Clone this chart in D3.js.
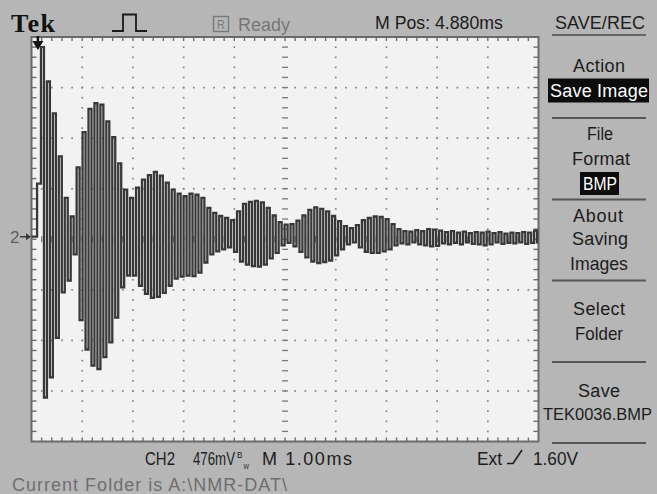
<!DOCTYPE html>
<html>
<head>
<meta charset="utf-8">
<script src="https://cdn.jsdelivr.net/npm/d3@7"></script>
<style>
  html, body { margin: 0; padding: 0; background: #b6b6b6; }
  svg { display: block; }
</style>
</head>
<body>
<svg id="scope" width="657" height="494"></svg>
<script>
// CH2 free-induction decay: successive positive / negative extrema (divisions, 476 mV/div)
const crest = [
  3.80, 3.12, 2.49, 1.64, 0.82, 0.45, 1.42, 2.12, 2.58, 2.69,
  2.66, 2.33, 2.02, 1.50, 0.98, 0.82, 1.02, 1.18, 1.27, 1.33,
  1.26, 1.12, 0.98, 0.90, 0.85, 0.90, 0.88, 0.82, 0.62, 0.52,
  0.46, 0.42, 0.38, 0.55, 0.70, 0.74, 0.76, 0.73, 0.62, 0.47,
  0.34, 0.29, 0.30, 0.37, 0.47, 0.58, 0.63, 0.60, 0.55, 0.46,
  0.36, 0.26, 0.22, 0.28, 0.38, 0.42, 0.45, 0.44, 0.40, 0.30,
  0.20, 0.16, 0.15, 0.18, 0.16, 0.20, 0.19, 0.17, 0.14, 0.16,
  0.13, 0.15, 0.12, 0.14, 0.13, 0.15, 0.12, 0.14, 0.11, 0.13,
  0.12, 0.14, 0.13, 0.17
];
const trough = [
  -3.13, -2.73, -1.95, -1.05, -0.82, -0.30, -1.60, -2.18, -2.50, -2.57,
  -2.33, -2.04, -1.55, -0.95, -0.72, -0.72, -0.92, -1.08, -1.16, -1.14,
  -1.06, -0.92, -0.78, -0.74, -0.72, -0.73, -0.66, -0.46, -0.30, -0.24,
  -0.20, -0.16, -0.25, -0.44, -0.50, -0.53, -0.54, -0.50, -0.38, -0.27,
  -0.12, -0.07, -0.14, -0.25, -0.36, -0.44, -0.47, -0.45, -0.42, -0.32,
  -0.20, -0.10, -0.06, -0.16, -0.25, -0.27, -0.27, -0.24, -0.20, -0.12,
  -0.08, -0.10, -0.06, -0.10, -0.12, -0.14, -0.13, -0.08, -0.10, -0.07,
  -0.10, -0.06, -0.09, -0.10, -0.12, -0.10, -0.06, -0.09, -0.07, -0.08,
  -0.06, -0.09, -0.07, -0.06
];
// trace before the first extremum (time in ms, level in divisions)
const leadTimes = [0, 0.11];
const leadValues = [0.05, 1.10];
const firstExtremumTime = 0.187;   // ms
const halfCycle = 0.0586;          // ms between successive extrema

// screen graticule
const timeDivisions = 10;          // M 1.00ms per division
const voltDivisions = 8;
const minorPerDivision = 5;

// labels
const headerText = { brand: "Tek", status: "Ready", position: "M Pos: 4.880ms", menu: "SAVE/REC" };
const menuLabels = ["Action", "Save Image", "File", "Format", "BMP", "About", "Saving", "Images",
                    "Select", "Folder", "Save", "TEK0036.BMP"];
const footerText = { channel: "CH2", scale: "476mV", bandwidth: ["B", "W"], time: "M 1.00ms",
                     source: "Ext", level: "1.60V", folder: "Current Folder is A:\\NMR-DAT\\" };

const svg = d3.select("#scope");
const W = 657, H = 494;
const plot = { left: 31.5, right: 538.5, top: 37, bottom: 441.5 };

const x = d3.scaleLinear().domain([0, timeDivisions]).range([plot.left, plot.right]);
const y = d3.scaleLinear().domain([-voltDivisions / 2, voltDivisions / 2]).range([plot.bottom, plot.top]);

const FONT = "'Liberation Sans',Arial,sans-serif";

svg.append("rect").attr("width", W).attr("height", H).attr("fill", "#b6b6b6");
svg.append("rect")
  .attr("x", plot.left).attr("y", plot.top)
  .attr("width", plot.right - plot.left).attr("height", plot.bottom - plot.top)
  .attr("fill", "#f2f2f2");

// graticule dots on major lines
const grid = svg.append("g").attr("fill", "#858585");
const minorT = d3.range(1, timeDivisions * minorPerDivision).map(i => i / minorPerDivision);
const minorV = d3.range(1, voltDivisions * minorPerDivision).map(i => -voltDivisions / 2 + i / minorPerDivision);
d3.range(1, timeDivisions).filter(t => t !== timeDivisions / 2).forEach(t => {
  grid.selectAll(null).data(minorV).join("rect")
    .attr("x", x(t) - 0.8).attr("y", v => y(v) - 0.8).attr("width", 1.7).attr("height", 1.7);
});
d3.range(-voltDivisions / 2 + 1, voltDivisions / 2).filter(v => v !== 0).forEach(v => {
  grid.selectAll(null).data(minorT).join("rect")
    .attr("x", t => x(t) - 0.8).attr("y", y(v) - 0.8).attr("width", 1.7).attr("height", 1.7);
});

// centre cross with minor tick dashes
const cross = svg.append("g").attr("stroke", "#7a7a7a").attr("stroke-width", 1.3);
cross.selectAll(null).data(minorV).join("line")
  .attr("x1", x(timeDivisions / 2) - 3).attr("x2", x(timeDivisions / 2) + 3)
  .attr("y1", v => y(v)).attr("y2", v => y(v));
cross.selectAll(null).data(minorT).join("line")
  .attr("y1", y(0) - 3).attr("y2", y(0) + 3)
  .attr("x1", t => x(t)).attr("x2", t => x(t));

// frame with inward ticks
const frame = svg.append("g").attr("stroke", "#6e6e6e").attr("stroke-width", 1.4);
frame.selectAll(null).data(minorT).join("line")
  .attr("x1", t => x(t)).attr("x2", t => x(t)).attr("y1", plot.top).attr("y2", plot.top + 4);
frame.selectAll(null).data(minorT).join("line")
  .attr("x1", t => x(t)).attr("x2", t => x(t)).attr("y1", plot.bottom).attr("y2", plot.bottom - 4);
frame.selectAll(null).data(minorV).join("line")
  .attr("y1", v => y(v)).attr("y2", v => y(v)).attr("x1", plot.left).attr("x2", plot.left + 5);
frame.selectAll(null).data(minorV).join("line")
  .attr("y1", v => y(v)).attr("y2", v => y(v)).attr("x1", plot.right).attr("x2", plot.right - 5);
svg.append("rect")
  .attr("x", plot.left).attr("y", plot.top)
  .attr("width", plot.right - plot.left).attr("height", plot.bottom - plot.top)
  .attr("fill", "none").attr("stroke", "#6a6a6a").attr("stroke-width", 2);

// waveform
const samples = leadTimes.map((t, i) => [t, leadValues[i]]);
crest.forEach((c, k) => {
  samples.push([firstExtremumTime + 2 * k * halfCycle, c]);
  samples.push([firstExtremumTime + (2 * k + 1) * halfCycle, trough[k]]);
});
samples.push([timeDivisions, trough[trough.length - 1]]);

svg.append("clipPath").attr("id", "plotClip").append("rect")
  .attr("x", plot.left).attr("y", plot.top)
  .attr("width", plot.right - plot.left).attr("height", plot.bottom - plot.top);

svg.append("path")
  .datum(samples)
  .attr("clip-path", "url(#plotClip)")
  .attr("fill", "none")
  .attr("stroke", "#383838")
  .attr("stroke-width", 2.3)
  .attr("stroke-linejoin", "miter")
  .attr("d", d3.line().x(d => x(d[0])).y(d => y(d[1])).curve(d3.curveStepAfter));

// trigger position marker
const trigX = x(leadTimes[1] * 0.6 + 0.06);
svg.append("path")
  .attr("d", `M${trigX - 5.5},${plot.top + 4} L${trigX + 5.5},${plot.top + 4} L${trigX},${plot.top + 13} Z`)
  .attr("fill", "#111");
svg.append("line").attr("x1", trigX).attr("x2", trigX).attr("y1", plot.top - 1).attr("y2", plot.top + 6)
  .attr("stroke", "#111").attr("stroke-width", 2.5);

// channel 2 ground marker
svg.append("text").attr("x", 10).attr("y", y(leadValues[0]) + 6)
  .attr("font-family", FONT).attr("font-size", 17).attr("fill", "#5e5e5e").text("2");
svg.append("line").attr("x1", 20).attr("x2", 27).attr("y1", y(leadValues[0])).attr("y2", y(leadValues[0]))
  .attr("stroke", "#3a3a3a").attr("stroke-width", 1.5);
svg.append("path")
  .attr("d", `M26,${y(leadValues[0]) - 3.5} L31,${y(leadValues[0])} L26,${y(leadValues[0]) + 3.5} Z`)
  .attr("fill", "#3a3a3a");

// text helper: left x, baseline y, fitted width
// (narrowed with a horizontal scale when too wide, letter-spaced when a bit short)
function label(s, x0, base, width, opts = {}) {
  const t = svg.append("text")
    .attr("x", 0).attr("y", 0)
    .attr("transform", `translate(${x0},${base})`)
    .attr("font-family", opts.family || FONT)
    .attr("font-size", opts.size || 18)
    .attr("font-weight", opts.weight || "normal")
    .attr("fill", opts.fill || "#1c1c1c")
    .text(s);
  const natural = t.node().getComputedTextLength();
  if (natural > width) {
    t.attr("transform", `translate(${x0},${base}) scale(${width / natural},1)`);
  } else {
    t.attr("textLength", width).attr("lengthAdjust", "spacing");
  }
  return t;
}

// header
label(headerText.brand, 11, 32, 44, { family: "'Liberation Serif','DejaVu Serif',serif", weight: "bold", size: 26, fill: "#111" });
svg.append("path").attr("d", "M112,31 H123 V14.5 H136 V31 H147")
  .attr("fill", "none").attr("stroke", "#1a1a1a").attr("stroke-width", 1.8);
svg.append("rect").attr("x", 213.5).attr("y", 16.5).attr("width", 15).attr("height", 15)
  .attr("fill", "none").attr("stroke", "#7a7a7a").attr("stroke-width", 1.4);
label("R", 217, 29, 8, { size: 12, fill: "#7a7a7a" });
label(headerText.status, 238, 31, 52, { fill: "#767676", size: 19 });
label(headerText.position, 375, 28.5, 128);
label(headerText.menu, 555, 28.5, 90);
svg.append("line").attr("x1", 552).attr("x2", 646).attr("y1", 35).attr("y2", 35)
  .attr("stroke", "#4a4a4a").attr("stroke-width", 1.6);

// side menu
const dividers = [118, 199.5, 280.5, 362, 443];
svg.selectAll(null).data(dividers).join("line")
  .attr("x1", 552).attr("x2", 646).attr("y1", d => d).attr("y2", d => d)
  .attr("stroke", "#555").attr("stroke-width", 1.8);

svg.append("rect").attr("x", 548).attr("y", 78.5).attr("width", 101).attr("height", 24).attr("fill", "#0c0c0c");
svg.append("rect").attr("x", 580).attr("y", 172).attr("width", 39).attr("height", 23).attr("fill", "#0c0c0c");

const menuPlacement = [
  [573, 71.5, 52], [550, 96.5, 98], [587, 140, 26], [572, 164.5, 58], [583, 190, 34],
  [573, 222, 50], [572, 245, 56], [570, 269.5, 58], [573, 315, 52], [575, 339.5, 48],
  [578, 397, 42], [543, 420, 109]
];
menuLabels.forEach((s, i) => {
  const [mx, my, mw] = menuPlacement[i];
  const inverted = s === "Save Image" || s === "BMP";
  label(s, mx, my, mw, { fill: inverted ? "#ffffff" : "#1c1c1c", size: i === 11 ? 17 : 18 });
});

// footer
label(footerText.channel, 145, 464.5, 30);
label(footerText.scale, 193, 464.5, 42);
label(footerText.bandwidth[0], 237, 458, 5.5, { size: 9 });
label(footerText.bandwidth[1], 243.5, 468.5, 5.5, { size: 7 });
label(footerText.time, 262, 464.5, 90);
label(footerText.source, 477, 464.5, 25);
svg.append("path").attr("d", "M507,463.5 H513 L522,450")
  .attr("fill", "none").attr("stroke", "#1c1c1c").attr("stroke-width", 1.6);
label(footerText.level, 533, 464.5, 45);
label(footerText.folder, 12, 491, 275, { fill: "#6e6e6e" });
</script>
</body>
</html>
